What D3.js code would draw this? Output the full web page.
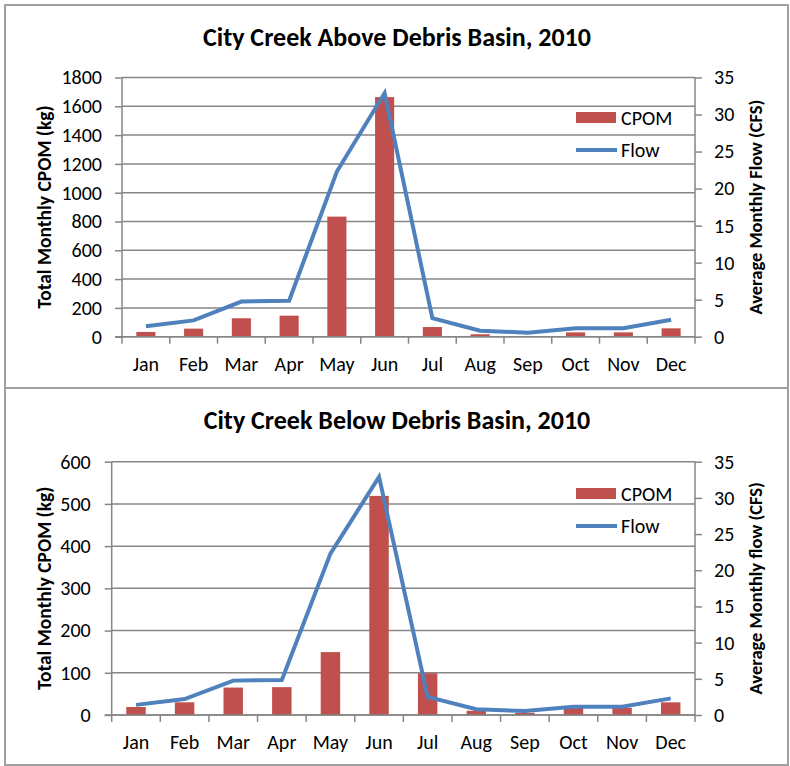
<!DOCTYPE html>
<html><head><meta charset="utf-8">
<script src="https://cdn.jsdelivr.net/npm/d3@7"></script>
<style>body{margin:0;background:#fff}svg{display:block}</style>
</head><body>
<svg id="c" width="790" height="766"></svg>
<script>
const months = ["Jan","Feb","Mar","Apr","May","Jun","Jul","Aug","Sep","Oct","Nov","Dec"];
const cpomAbove = [33,56,128,146,834,1664,67,17,4,30,30,58];
const cpomBelow = [19,30,65,66,149,519,99,10,5,21,17,30];
const flow = [1.4,2.2,4.75,4.85,22.3,32.9,2.5,0.8,0.55,1.15,1.15,2.3];
const ticksAbove = [0,200,400,600,800,1000,1200,1400,1600,1800];
const ticksBelow = [0,100,200,300,400,500,600];
const flowTicks = [0,5,10,15,20,25,30,35];

const FONT = "Carlito, Calibri, Lato, sans-serif";
const svg = d3.select("#c");
const BAR = "#C0504D", LINE = "#4F81BD", GRID = "#868686";

function panel(cfg){
  const g = svg.append("g");
  g.append("rect").attr("x",cfg.box[0]).attr("y",cfg.box[1]).attr("width",cfg.box[2]).attr("height",cfg.box[3])
    .attr("fill","#fff").attr("stroke","#a0a0a0").attr("stroke-width",2);
  g.append("text").attr("x",397).attr("y",cfg.titleY).attr("text-anchor","middle")
    .attr("font-family",FONT).attr("font-weight","bold").attr("font-size",26).attr("fill","#000").text(cfg.title);
  const x = d3.scaleBand().domain(months).range([cfg.x0,cfg.x1]).paddingInner(0.6).paddingOuter(0.3);
  const xb = d3.scaleBand().domain(months).range([cfg.x0,cfg.x1]);
  const y = d3.scaleLinear().domain([0,cfg.max]).range([cfg.yb,cfg.yt]);
  const y2 = d3.scaleLinear().domain([0,35]).range([cfg.yb,cfg.yt]);
  g.append("g").selectAll("line").data(cfg.ticks).join("line")
    .attr("x1",cfg.x0).attr("x2",cfg.x1).attr("y1",d=>y(d)).attr("y2",d=>y(d))
    .attr("stroke",GRID).attr("stroke-width",1.5);
  g.append("g").selectAll("rect").data(cfg.cpom).join("rect")
    .attr("x",(d,i)=>x(months[i])).attr("width",x.bandwidth())
    .attr("y",d=>y(d)).attr("height",d=>cfg.yb-y(d)).attr("fill",BAR);
  const la = g.append("g").attr("transform",`translate(${cfg.x0},0)`)
    .call(d3.axisLeft(y).tickValues(cfg.ticks).tickSize(7).tickPadding(cfg.lpad).tickFormat(d3.format("d")));
  const ra = g.append("g").attr("transform",`translate(${cfg.x1},0)`)
    .call(d3.axisRight(y2).tickValues(flowTicks).tickSize(7).tickPadding(12));
  const ba = g.append("g").attr("transform",`translate(0,${cfg.yb})`)
    .call(d3.axisBottom(xb).tickSize(0).tickPadding(20));
  ba.append("g").selectAll("line").data(d3.range(13)).join("line")
    .attr("x1",i=>cfg.x0+i*xb.step()).attr("x2",i=>cfg.x0+i*xb.step()).attr("y1",0).attr("y2",7)
    .attr("stroke",GRID).attr("stroke-width",1.5);
  [la,ra,ba].forEach(a=>{
    a.selectAll("path.domain").attr("stroke",GRID).attr("stroke-width",1.5);
    a.selectAll(".tick line").attr("stroke",GRID).attr("stroke-width",1.5);
    a.selectAll("text").attr("font-family",FONT).attr("font-size",20).attr("fill","#000");
  });
  la.select("path.domain").attr("d",`M-7,${cfg.yb}H0V${cfg.yt}`);
  ra.select("path.domain").attr("d",`M0,${cfg.yb}V${cfg.yt}`);
  ba.select("path.domain").attr("d",`M${cfg.x0},0H${cfg.x1}`);
  const ln = d3.line().x((d,i)=>xb(months[i])+xb.bandwidth()/2).y(d=>y2(d));
  g.append("path").datum(flow).attr("d",ln).attr("fill","none").attr("stroke",LINE)
    .attr("stroke-width",4).attr("stroke-linejoin","miter");
  g.append("text").attr("transform",`translate(${cfg.ltx},${(cfg.yt+cfg.yb)/2}) rotate(-90)`)
    .attr("text-anchor","middle").attr("dominant-baseline","central")
    .attr("font-family",FONT).attr("font-weight","bold").attr("font-size",19.5).text(cfg.ltitle);
  g.append("text").attr("transform",`translate(755,${(cfg.yt+cfg.yb)/2}) rotate(-90)`)
    .attr("text-anchor","middle").attr("dominant-baseline","central")
    .attr("font-family",FONT).attr("font-weight","bold").attr("font-size",18.5).text(cfg.rtitle);
  g.append("rect").attr("x",576).attr("y",cfg.legY-6).attr("width",40).attr("height",11).attr("fill",BAR);
  g.append("text").attr("x",621).attr("y",cfg.legY).attr("dominant-baseline","central")
    .attr("font-family",FONT).attr("font-size",20).text("CPOM");
  g.append("line").attr("x1",576).attr("x2",617).attr("y1",cfg.legY+32).attr("y2",cfg.legY+32)
    .attr("stroke",LINE).attr("stroke-width",4);
  g.append("text").attr("x",621).attr("y",cfg.legY+32).attr("dominant-baseline","central")
    .attr("font-family",FONT).attr("font-size",20).text("Flow");
}

panel({box:[5,5,783,383], title:"City Creek Above Debris Basin, 2010", titleY:46,
  x0:122, x1:695, yt:77.5, yb:336.7, max:1800, ticks:ticksAbove, cpom:cpomAbove, lpad:13, ltx:44,
  ltitle:"Total Monthly CPOM (kg)", rtitle:"Average Monthly Flow (CFS)", legY:118});
panel({box:[5,388,783,377], title:"City Creek Below Debris Basin, 2010", titleY:429,
  x0:111.7, x1:695, yt:461.7, yb:715, max:600, ticks:ticksBelow, cpom:cpomBelow, lpad:14, ltx:44,
  ltitle:"Total Monthly CPOM (kg)", rtitle:"Average Monthly flow (CFS)", legY:494});
</script>
</body></html>
